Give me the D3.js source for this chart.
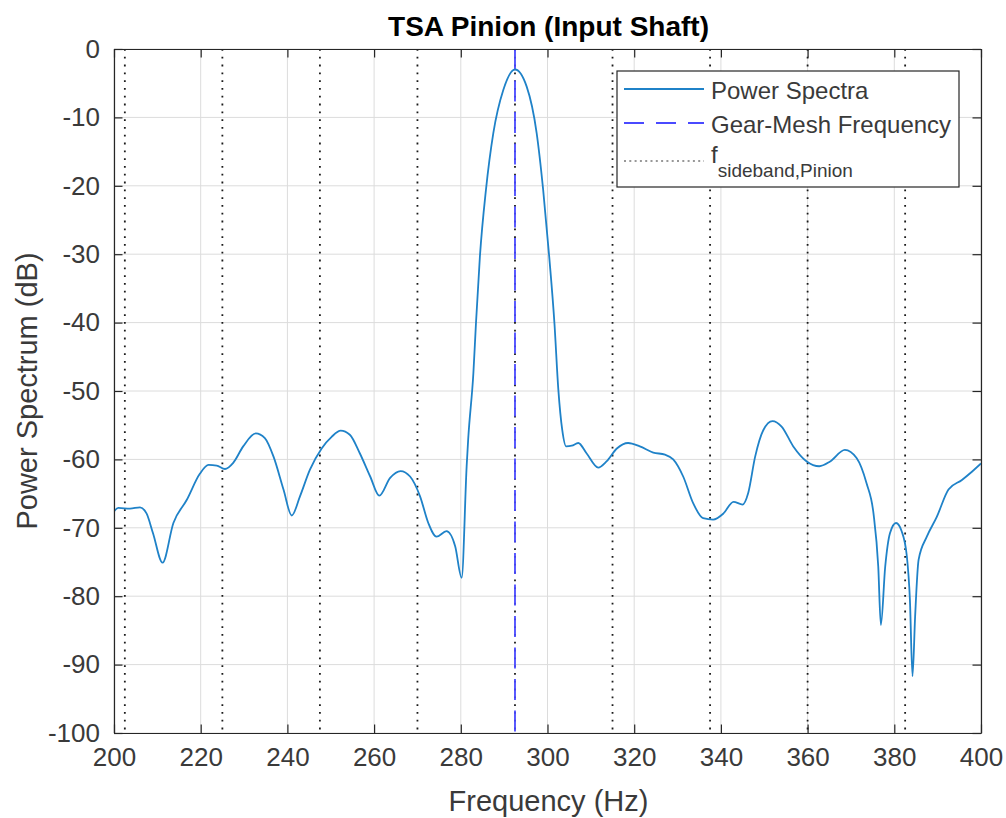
<!DOCTYPE html>
<html>
<head>
<meta charset="utf-8">
<script src="https://cdn.jsdelivr.net/npm/d3@7"></script>
<style>
  html, body { margin: 0; padding: 0; background: #fff; }
  svg { display: block; font-family: "Liberation Sans", Arial, sans-serif; }
</style>
</head>
<body>
<svg id="chart" width="1006" height="818"></svg>
<script>
// ---------------- data ----------------
const freqHz = [200.0,201.0,203.7,206.0,207.5,209.0,211.2,213.7,216.8,219.8,221.8,223.7,225.6,227.5,229.8,232.7,234.8,236.8,239.1,241.0,242.9,245.2,247.9,250.2,252.3,254.4,256.7,259.1,261.2,263.7,266.1,268.3,270.6,272.5,274.4,276.7,278.7,280.2,281.35,281.7,282.9,283.5,284.4,285.8,287.5,289.8,292.5,295.2,297.5,299.0,300.4,301.6,302.5,303.4,304.3,305.6,307.1,309.0,311.7,313.6,316.0,318.6,321.3,324.4,327.1,329.0,331.3,333.6,335.9,338.2,340.6,342.9,345.0,346.3,347.9,349.8,351.9,354.0,356.7,359.8,362.7,365.2,368.6,371.3,373.6,375.2,376.3,376.9,377.9,379.0,380.4,381.7,382.9,383.6,384.2,384.8,385.6,387.5,389.8,392.5,395.6,397.9,400.0];
const powerDb = [-67.6,-67.1,-67.2,-67.0,-67.9,-70.8,-75.1,-69.3,-65.9,-62.1,-60.8,-60.9,-61.4,-60.5,-58.1,-56.2,-56.9,-59.6,-64.4,-68.2,-65.4,-61.5,-58.4,-56.7,-55.8,-56.4,-59.1,-62.5,-65.3,-62.7,-61.7,-62.5,-65.4,-69.3,-71.3,-70.5,-72.7,-77.3,-61.0,-57.1,-47.4,-40.1,-30.4,-20.6,-12.3,-6.0,-3.0,-5.5,-12.3,-20.6,-30.4,-40.1,-49.8,-55.7,-58.1,-58.0,-57.6,-59.1,-61.2,-60.3,-58.4,-57.6,-58.1,-59.0,-59.3,-60.0,-62.5,-66.4,-68.6,-68.8,-67.9,-66.2,-66.6,-64.9,-59.6,-55.7,-54.4,-55.2,-58.1,-60.3,-61.0,-60.3,-58.6,-59.8,-63.5,-67.9,-75.7,-84.2,-75.7,-70.8,-69.3,-70.5,-74.2,-80.5,-91.7,-83.0,-74.7,-71.3,-68.4,-64.4,-63.0,-61.8,-60.6];
const gearMeshFreq = 292.5;
const sidebandFreqs = [202.5,225.0,247.5,270.0,292.5,315.0,337.5,360.0,382.5];
const xTicks = [200,220,240,260,280,300,320,340,360,380,400];
const yTicks = [0,-10,-20,-30,-40,-50,-60,-70,-80,-90,-100];
const titleText = "TSA Pinion (Input Shaft)";
const xLabelText = "Frequency (Hz)";
const yLabelText = "Power Spectrum (dB)";
const legendLabels = ["Power Spectra", "Gear-Mesh Frequency"];

// ---------------- layout ----------------
const L = 114, T = 49, W = 867, H = 684;
const axisColor = "#262626";
const FONT = "'Liberation Sans', Arial, sans-serif";
const svg = d3.select("#chart");

const x = d3.scaleLinear().domain([200, 400]).range([L, L + W]);
const y = d3.scaleLinear().domain([-100, 0]).range([T + H, T]);

svg.append("defs").append("clipPath").attr("id", "clip")
  .append("rect").attr("x", L).attr("y", T).attr("width", W).attr("height", H);

// grid
const grid = svg.append("g");
grid.selectAll("line.gx").data(xTicks).join("line")
  .attr("x1", d => x(d)).attr("x2", d => x(d)).attr("y1", T).attr("y2", T + H)
  .attr("stroke", "#dcdcdc").attr("stroke-width", 1);
grid.selectAll("line.gy").data(yTicks).join("line")
  .attr("y1", d => y(d)).attr("y2", d => y(d)).attr("x1", L).attr("x2", L + W)
  .attr("stroke", "#dcdcdc").attr("stroke-width", 1);

const plot = svg.append("g").attr("clip-path", "url(#clip)");

// sideband dotted lines
plot.selectAll("line.sb").data(sidebandFreqs).join("line")
  .attr("x1", d => x(d)).attr("x2", d => x(d)).attr("y1", T).attr("y2", T + H)
  .attr("stroke", "#1a1a1a").attr("stroke-width", 1.8)
  .attr("stroke-dasharray", "1.8,6");

// gear mesh dashed
plot.append("line")
  .attr("x1", x(gearMeshFreq)).attr("x2", x(gearMeshFreq)).attr("y1", T).attr("y2", T + H)
  .attr("stroke", "#4a4aff").attr("stroke-width", 1.8)
  .attr("stroke-dasharray", "21,10.5");

// spectrum
const line = d3.line().x(d => x(d[0])).y(d => y(d[1])).curve(d3.curveMonotoneX);
plot.append("path")
  .datum(freqHz.map((f, i) => [f, powerDb[i]]))
  .attr("d", line)
  .attr("fill", "none").attr("stroke", "#1f82c8").attr("stroke-width", 1.8)
  .attr("stroke-linejoin", "round");

// axes (box + inward ticks)
const tickLen = 8.5;
const bottomAxis = d3.axisBottom(x).tickValues(xTicks).tickSizeInner(-tickLen).tickSizeOuter(0).tickPadding(15);
const topAxis = d3.axisTop(x).tickValues(xTicks).tickSizeInner(-tickLen).tickSizeOuter(0).tickFormat("");
const leftAxis = d3.axisLeft(y).tickValues(yTicks).tickSizeInner(-tickLen).tickSizeOuter(0).tickPadding(14)
  .tickFormat(d => String(d));
const rightAxis = d3.axisRight(y).tickValues(yTicks).tickSizeInner(-tickLen).tickSizeOuter(0).tickFormat("");

function styleAxis(g) {
  g.attr("font-family", null);
  g.selectAll("path.domain").attr("stroke", axisColor).attr("stroke-width", 1.2);
  g.selectAll(".tick line").attr("stroke", axisColor).attr("stroke-width", 1.2);
  g.selectAll(".tick text").attr("fill", "#3a3a3a")
    .style("font-size", "26px").style("font-family", FONT);
}
svg.append("g").attr("transform", `translate(0,${T + H})`).call(bottomAxis).call(styleAxis);
svg.append("g").attr("transform", `translate(0,${T})`).call(topAxis).call(styleAxis);
svg.append("g").attr("transform", `translate(${L},0)`).call(leftAxis).call(styleAxis);
svg.append("g").attr("transform", `translate(${L + W},0)`).call(rightAxis).call(styleAxis);

// title and labels
svg.append("text").attr("x", L + W / 2 + 1).attr("y", 36).attr("text-anchor", "middle")
  .style("font-size", "28px").style("font-weight", "bold").style("font-family", FONT)
  .attr("fill", "#000")
  .text(titleText);
svg.append("text").attr("x", L + W / 2 + 1).attr("y", 811).attr("text-anchor", "middle")
  .style("font-size", "29px").style("font-family", FONT).attr("fill", "#3a3a3a").text(xLabelText);
svg.append("text").attr("transform", `translate(37,${T + H / 2}) rotate(-90)`)
  .attr("text-anchor", "middle").style("font-size", "29px").style("font-family", FONT)
  .attr("fill", "#3a3a3a").text(yLabelText);

// legend
const lg = svg.append("g").style("font-family", FONT);
const lgX = 617, lgY = 71, lgW = 342, lgH = 116;
lg.append("rect").attr("x", lgX).attr("y", lgY).attr("width", lgW).attr("height", lgH)
  .attr("fill", "#fff").attr("stroke", axisColor).attr("stroke-width", 1.2);
const sx1 = 624, sx2 = 704, tx = 711;
lg.append("line").attr("x1", sx1).attr("x2", sx2).attr("y1", 89).attr("y2", 89)
  .attr("stroke", "#1f82c8").attr("stroke-width", 1.8);
lg.append("text").attr("x", tx).attr("y", 99).style("font-size", "24px").attr("fill", "#3a3a3a")
  .text(legendLabels[0]);
lg.append("line").attr("x1", sx1).attr("x2", sx2).attr("y1", 123).attr("y2", 123)
  .attr("stroke", "#4a4aff").attr("stroke-width", 1.8).attr("stroke-dasharray", "20,12");
lg.append("text").attr("x", tx).attr("y", 133).style("font-size", "24px").attr("fill", "#3a3a3a")
  .text(legendLabels[1]);
lg.append("line").attr("x1", sx1).attr("x2", sx2).attr("y1", 161).attr("y2", 161)
  .attr("stroke", "#333").attr("stroke-width", 1.2).attr("stroke-dasharray", "2,3.3");
const ft = lg.append("text").attr("x", tx).attr("y", 163).style("font-size", "24px").attr("fill", "#3a3a3a");
ft.append("tspan").text("f");
ft.append("tspan").attr("dy", 14).style("font-size", "19px").text("sideband,Pinion");
</script>
</body>
</html>
